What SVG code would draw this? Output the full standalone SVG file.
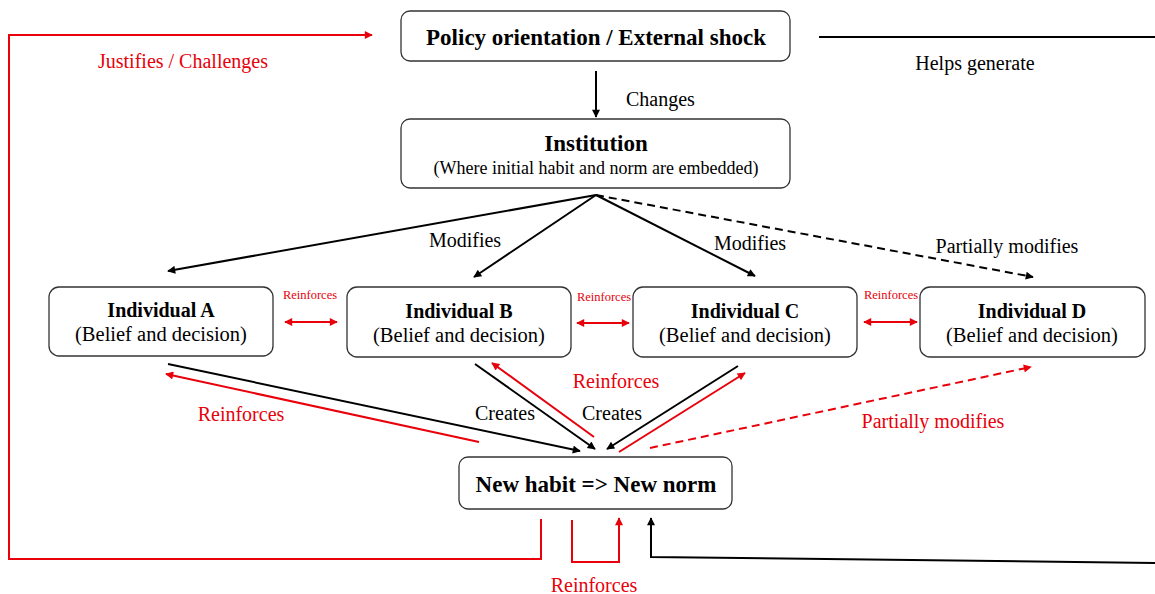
<svg xmlns="http://www.w3.org/2000/svg" width="1155" height="594" viewBox="0 0 1155 594">
<style>
.box{fill:#fff;stroke:#333;stroke-width:1.3}
.t{font-family:"Liberation Serif","Times New Roman",serif;text-anchor:middle;fill:#000}
.b{font-weight:bold}
.lbl{font-family:"Liberation Serif","Times New Roman",serif;font-size:20px;fill:#000}
.red{fill:#e8000b}
.k{stroke:#000;stroke-width:2;fill:none}
.r{stroke:#e8000b;stroke-width:2;fill:none}
.d{stroke-dasharray:8 5}
</style>
<defs>
<marker id="ak" viewBox="0 0 10 10" refX="9" refY="5" markerWidth="10" markerHeight="8" markerUnits="userSpaceOnUse" orient="auto"><path d="M0,0L10,5L0,10z" fill="#000"/></marker>
<marker id="ar" viewBox="0 0 10 10" refX="9" refY="5" markerWidth="10" markerHeight="8" markerUnits="userSpaceOnUse" orient="auto-start-reverse"><path d="M0,0L10,5L0,10z" fill="#e8000b"/></marker>
</defs>
<g id="connectors">
<line class="k" x1="596" y1="71" x2="596" y2="117" marker-end="url(#ak)"/>
<line class="k" x1="819" y1="37" x2="1155" y2="37"/>
<polyline class="k" points="1155,563 651,557 651,518" marker-end="url(#ak)"/>
<polyline class="r" points="541,519 541,559 9,559 9,35 372,35" marker-end="url(#ar)"/>
<polyline class="r" points="572,520 572,562 619,562 619,518" marker-end="url(#ar)"/>
<line class="k" x1="596" y1="195" x2="168" y2="271" marker-end="url(#ak)"/>
<line class="k" x1="596" y1="195" x2="474" y2="277" marker-end="url(#ak)"/>
<line class="k" x1="596" y1="195" x2="755" y2="276" marker-end="url(#ak)"/>
<line class="k d" x1="596" y1="195" x2="1033" y2="277" marker-end="url(#ak)"/>
<line class="r" x1="285" y1="322" x2="337" y2="322" marker-start="url(#ar)" marker-end="url(#ar)"/>
<line class="r" x1="577" y1="323" x2="629" y2="323" marker-start="url(#ar)" marker-end="url(#ar)"/>
<line class="r" x1="864" y1="322" x2="917" y2="322" marker-start="url(#ar)" marker-end="url(#ar)"/>
<line class="k" x1="168" y1="364" x2="580" y2="451" marker-end="url(#ak)"/>
<line class="r" x1="479" y1="442" x2="166" y2="374" marker-end="url(#ar)"/>
<line class="k" x1="475" y1="364" x2="595" y2="449" marker-end="url(#ak)"/>
<line class="r" x1="594" y1="437" x2="492" y2="363" marker-end="url(#ar)"/>
<line class="k" x1="738" y1="366" x2="607" y2="449" marker-end="url(#ak)"/>
<line class="r" x1="619" y1="452" x2="745" y2="373" marker-end="url(#ar)"/>
<line class="r d" x1="650" y1="448" x2="1031" y2="367" marker-end="url(#ar)"/>
</g>
<g id="labels">
<text class="lbl" x="626" y="106">Changes</text>
<text class="lbl" x="975" y="70" text-anchor="middle">Helps generate</text>
<text class="lbl red" x="183" y="68" text-anchor="middle">Justifies / Challenges</text>
<text class="lbl" x="465" y="247" text-anchor="middle">Modifies</text>
<text class="lbl" x="750" y="250" text-anchor="middle">Modifies</text>
<text class="lbl" x="1007" y="253" text-anchor="middle">Partially modifies</text>
<text class="lbl red" x="310" y="299" text-anchor="middle" style="font-size:12.5px">Reinforces</text>
<text class="lbl red" x="604" y="301" text-anchor="middle" style="font-size:12.5px">Reinforces</text>
<text class="lbl red" x="891" y="299" text-anchor="middle" style="font-size:12.5px">Reinforces</text>
<text class="lbl red" x="241" y="421" text-anchor="middle">Reinforces</text>
<text class="lbl" x="505" y="420" text-anchor="middle">Creates</text>
<text class="lbl" x="612" y="420" text-anchor="middle">Creates</text>
<text class="lbl red" x="616" y="388" text-anchor="middle">Reinforces</text>
<text class="lbl red" x="933" y="428" text-anchor="middle">Partially modifies</text>
<text class="lbl red" x="594" y="592" text-anchor="middle">Reinforces</text>
</g>
<g id="policy">
<rect class="box" x="401" y="11" width="389" height="50" rx="9"/>
<text class="t b" x="596" y="45" font-size="23">Policy orientation / External shock</text>
</g>
<g id="institution">
<rect class="box" x="401" y="119" width="389" height="69" rx="9"/>
<text class="t b" x="596" y="151" font-size="23">Institution</text>
<text class="t" x="596" y="174" font-size="18">(Where initial habit and norm are embedded)</text>
</g>
<g id="individual-a">
<rect class="box" x="49" y="287" width="224" height="69" rx="10"/>
<text class="t b" x="161" y="317" font-size="20">Individual A</text>
<text class="t" x="161" y="341" font-size="20.5">(Belief and decision)</text>
</g>
<g id="individual-b">
<rect class="box" x="347" y="287" width="224" height="70" rx="10"/>
<text class="t b" x="459" y="318" font-size="20">Individual B</text>
<text class="t" x="459" y="342" font-size="20.5">(Belief and decision)</text>
</g>
<g id="individual-c">
<rect class="box" x="633" y="287" width="224" height="70" rx="10"/>
<text class="t b" x="745" y="318" font-size="20">Individual C</text>
<text class="t" x="745" y="342" font-size="20.5">(Belief and decision)</text>
</g>
<g id="individual-d">
<rect class="box" x="920" y="287" width="225" height="70" rx="10"/>
<text class="t b" x="1032" y="318" font-size="20">Individual D</text>
<text class="t" x="1032" y="342" font-size="20.5">(Belief and decision)</text>
</g>
<g id="new-habit">
<rect class="box" x="459" y="457" width="273" height="52" rx="9"/>
<text class="t b" x="596" y="492" font-size="23">New habit =&gt; New norm</text>
</g>
</svg>
